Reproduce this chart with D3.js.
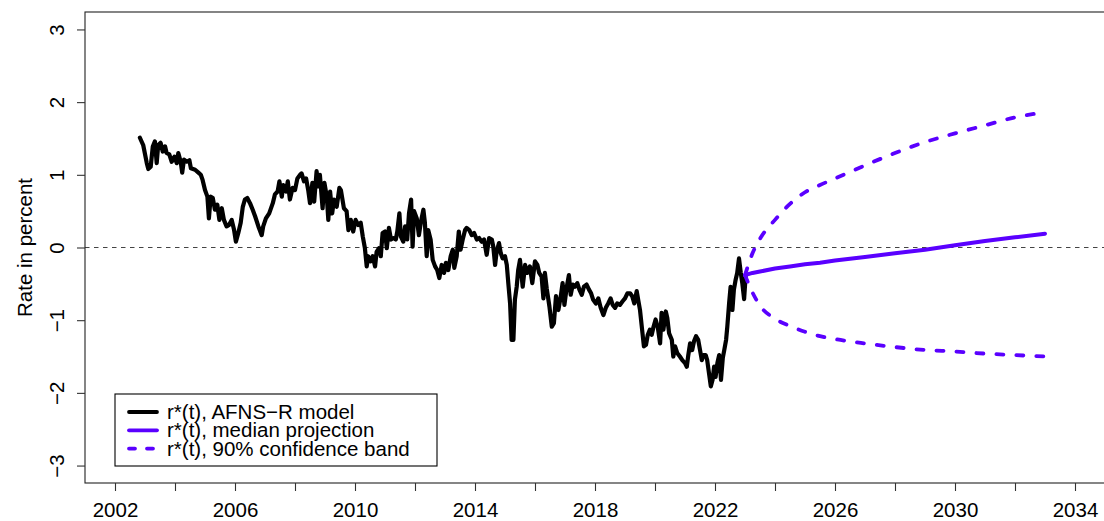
<!DOCTYPE html>
<html>
<head>
<meta charset="utf-8">
<script src="https://cdn.jsdelivr.net/npm/d3@7"></script>
<style>
  body { margin: 0; background: #fff; }
  svg text { font-family: "Liberation Sans", Arial, Helvetica, sans-serif; fill: #000; }
</style>
</head>
<body>
<div id="chart"></div>
<script>
// Chart size (matches the window)
var w = 1104;
var h = 521;

// r*(t) from the AFNS-R model (decimal years, percent)
var histYears = [
  2002.83, 2002.94, 2003.06, 2003.11, 2003.19, 2003.26, 2003.33, 2003.39, 2003.44, 2003.52,
  2003.59, 2003.67, 2003.72, 2003.81, 2003.89, 2003.98, 2004.06, 2004.11, 2004.19, 2004.24,
  2004.30, 2004.39, 2004.48, 2004.53, 2004.67, 2004.78, 2004.86, 2004.92, 2005.00, 2005.08,
  2005.13, 2005.19, 2005.26, 2005.33, 2005.41, 2005.48, 2005.56, 2005.63, 2005.72, 2005.80,
  2005.89, 2005.97, 2006.03, 2006.11, 2006.19, 2006.26, 2006.33, 2006.41, 2006.50, 2006.59,
  2006.67, 2006.78, 2006.89, 2006.94, 2007.03, 2007.14, 2007.26, 2007.33, 2007.42, 2007.48,
  2007.56, 2007.61, 2007.70, 2007.76, 2007.83, 2007.92, 2008.00, 2008.08, 2008.17, 2008.22,
  2008.30, 2008.37, 2008.44, 2008.50, 2008.58, 2008.64, 2008.72, 2008.78, 2008.83, 2008.92,
  2008.98, 2009.06, 2009.11, 2009.17, 2009.24, 2009.30, 2009.39, 2009.48, 2009.53, 2009.63,
  2009.72, 2009.78, 2009.86, 2009.94, 2010.02, 2010.11, 2010.19, 2010.26, 2010.33, 2010.39,
  2010.44, 2010.52, 2010.59, 2010.67, 2010.72, 2010.80, 2010.86, 2010.92, 2011.00, 2011.06,
  2011.13, 2011.20, 2011.28, 2011.36, 2011.41, 2011.48, 2011.53, 2011.61, 2011.67, 2011.74,
  2011.80, 2011.87, 2011.92, 2011.97, 2012.06, 2012.13, 2012.20, 2012.28, 2012.33, 2012.39,
  2012.44, 2012.52, 2012.59, 2012.67, 2012.74, 2012.81, 2012.89, 2012.97, 2013.03, 2013.11,
  2013.19, 2013.26, 2013.31, 2013.39, 2013.46, 2013.52, 2013.59, 2013.67, 2013.72, 2013.81,
  2013.89, 2013.97, 2014.06, 2014.14, 2014.22, 2014.30, 2014.39, 2014.47, 2014.56, 2014.61,
  2014.67, 2014.72, 2014.80, 2014.86, 2014.92, 2015.00, 2015.06, 2015.11, 2015.17, 2015.22,
  2015.28, 2015.33, 2015.39, 2015.44, 2015.50, 2015.59, 2015.67, 2015.74, 2015.83, 2015.91,
  2016.00, 2016.08, 2016.14, 2016.22, 2016.28, 2016.33, 2016.39, 2016.48, 2016.56, 2016.63,
  2016.70, 2016.78, 2016.86, 2016.92, 2016.98, 2017.06, 2017.13, 2017.19, 2017.26, 2017.33,
  2017.41, 2017.48, 2017.56, 2017.63, 2017.72, 2017.80, 2017.87, 2017.94, 2018.03, 2018.11,
  2018.19, 2018.28, 2018.36, 2018.44, 2018.52, 2018.59, 2018.67, 2018.74, 2018.83, 2018.92,
  2019.00, 2019.08, 2019.17, 2019.24, 2019.31, 2019.39, 2019.44, 2019.50, 2019.57, 2019.63,
  2019.70, 2019.76, 2019.83, 2019.89, 2019.94, 2020.02, 2020.09, 2020.17, 2020.22, 2020.28,
  2020.36, 2020.41, 2020.47, 2020.56, 2020.61, 2020.67, 2020.74, 2020.83, 2020.91, 2021.00,
  2021.06, 2021.11, 2021.17, 2021.24, 2021.30, 2021.37, 2021.44, 2021.50, 2021.56, 2021.61,
  2021.69, 2021.74, 2021.80, 2021.86, 2021.92, 2021.97, 2022.02, 2022.08, 2022.14, 2022.20,
  2022.26, 2022.31, 2022.37, 2022.41, 2022.47, 2022.52, 2022.58, 2022.63, 2022.69, 2022.74,
  2022.80, 2022.86, 2022.91, 2022.97, 2023.02
];
var histValues = [
  1.51, 1.41, 1.16, 1.08, 1.11, 1.39, 1.46, 1.16, 1.41, 1.44,
  1.32, 1.39, 1.30, 1.28, 1.18, 1.25, 1.16, 1.30, 1.18, 1.03,
  1.21, 1.18, 1.20, 1.09, 1.07, 1.03, 1.00, 0.93, 0.79, 0.70,
  0.40, 0.70, 0.68, 0.52, 0.59, 0.38, 0.54, 0.38, 0.29, 0.31,
  0.38, 0.24, 0.08, 0.20, 0.34, 0.56, 0.66, 0.68, 0.61, 0.52,
  0.43, 0.29, 0.17, 0.29, 0.40, 0.47, 0.61, 0.73, 0.77, 0.91,
  0.70, 0.86, 0.77, 0.91, 0.66, 0.82, 0.79, 0.95, 1.00, 1.02,
  0.91, 0.95, 0.79, 0.61, 0.89, 0.63, 1.05, 0.84, 1.00, 0.54,
  0.89, 0.70, 0.38, 0.77, 0.47, 0.66, 0.56, 0.82, 0.79, 0.54,
  0.50, 0.24, 0.38, 0.22, 0.38, 0.31, 0.34, 0.15, -0.01, -0.26,
  -0.12, -0.19, -0.12, -0.26, -0.06, -0.01, -0.12, 0.20, 0.22, -0.01,
  0.27, 0.11, 0.13, 0.11, 0.22, 0.47, 0.15, 0.08, 0.29, 0.11,
  0.47, 0.66, 0.01, 0.50, 0.40, 0.17, 0.36, 0.52, 0.34, -0.12,
  0.24, 0.11, -0.17, -0.26, -0.31, -0.42, -0.24, -0.35, -0.21, -0.31,
  -0.12, -0.03, -0.28, -0.12, 0.22, -0.03, 0.11, 0.24, 0.27, 0.24,
  0.17, 0.20, 0.11, 0.13, 0.08, 0.11, -0.10, 0.13, 0.11, 0.01,
  -0.24, -0.06, 0.06, -0.08, -0.15, -0.12, -0.24, -0.49, -0.77, -1.27,
  -1.27, -0.72, -0.54, -0.31, -0.17, -0.54, -0.24, -0.35, -0.26, -0.49,
  -0.19, -0.24, -0.35, -0.40, -0.70, -0.35, -0.56, -0.81, -1.09, -1.04,
  -0.67, -0.86, -0.67, -0.49, -0.79, -0.54, -0.38, -0.65, -0.51, -0.54,
  -0.49, -0.58, -0.65, -0.54, -0.51, -0.58, -0.63, -0.72, -0.77, -0.70,
  -0.83, -0.93, -0.83, -0.77, -0.70, -0.79, -0.83, -0.77, -0.79, -0.74,
  -0.70, -0.63, -0.63, -0.67, -0.77, -0.60, -0.72, -0.86, -1.13, -1.36,
  -1.34, -1.20, -1.13, -1.20, -1.11, -0.99, -1.09, -1.32, -0.90, -1.13,
  -0.88, -0.97, -1.18, -1.27, -1.50, -1.36, -1.45, -1.50, -1.55, -1.59,
  -1.64, -1.48, -1.32, -1.41, -1.29, -1.22, -1.27, -1.41, -1.55, -1.48,
  -1.48, -1.55, -1.73, -1.91, -1.82, -1.64, -1.78, -1.59, -1.48, -1.82,
  -1.52, -1.41, -1.27, -1.09, -0.77, -0.54, -0.86, -0.58, -0.44, -0.35,
  -0.15, -0.35, -0.49, -0.71, -0.40
];

// Projection horizon and results
var projYears    = [2023.0, 2023.25, 2023.5, 2024.0, 2024.5, 2025.0, 2025.5, 2026.0, 2027.0, 2028.0, 2029.0, 2030.0, 2031.0, 2032.0, 2033.0];
var medianValues = [-0.38, -0.35, -0.33, -0.29, -0.26, -0.23, -0.21, -0.18, -0.13, -0.08, -0.03, 0.03, 0.09, 0.14, 0.19];
var upperValues  = [-0.38, -0.08, 0.12, 0.38, 0.60, 0.76, 0.86, 0.95, 1.13, 1.30, 1.45, 1.57, 1.68, 1.79, 1.86];
var lowerValues  = [-0.38, -0.62, -0.80, -0.98, -1.08, -1.16, -1.22, -1.26, -1.32, -1.37, -1.41, -1.43, -1.46, -1.48, -1.50];

// Axis ticks and legend entries
var xTicks = d3.range(2002, 2035, 2);
var yTicks = [-3, -2, -1, 0, 1, 2, 3];
var legendLabels = ["r*(t), AFNS\u2212R model", "r*(t), median projection", "r*(t), 90% confidence band"];

var purple = "#5a00ff";
var fontSize = '20.5px';

var svg = d3.select('#chart').append('svg')
      .attr('width', w)
      .attr('height', h);

// plot region: left edge at 85px, the right edge falls outside the picture
var x = d3.scaleLinear().domain([2001, 2036]).range([85, 1135]);
var y = d3.scaleLinear().domain([-3.24, 3.24]).range([483, 12]);

var line = d3.line()
      .x(function(d) { return x(d[0]); })
      .y(function(d) { return y(d[1]); });

// zero reference line
svg.append('line')
    .attr('x1', x(2001)).attr('x2', w)
    .attr('y1', y(0)).attr('y2', y(0))
    .attr('stroke', '#444')
    .attr('stroke-width', 1)
    .attr('stroke-dasharray', '4.5,4.5');

var hist = d3.zip(histYears, histValues);
svg.append('path')
    .datum(hist)
    .attr('d', line)
    .attr('fill', 'none')
    .attr('stroke', '#000')
    .attr('stroke-width', 4.2)
    .attr('stroke-linejoin', 'round')
    .attr('stroke-linecap', 'round');

svg.append('path')
    .datum(d3.zip(projYears, medianValues))
    .attr('d', line)
    .attr('fill', 'none')
    .attr('stroke', purple)
    .attr('stroke-width', 4)
    .attr('stroke-linejoin', 'round')
    .attr('stroke-linecap', 'round');

[upperValues, lowerValues].forEach(function(vals) {
  svg.append('path')
      .datum(d3.zip(projYears, vals))
      .attr('d', d3.line().curve(d3.curveMonotoneX)
                .x(function(d) { return x(d[0]); })
                .y(function(d) { return y(d[1]); }))
      .attr('fill', 'none')
      .attr('stroke', purple)
      .attr('stroke-width', 3.8)
      .attr('stroke-linecap', 'round')
      .attr('stroke-dasharray', '7,13');
});

// box around the plot
svg.append('rect')
    .attr('x', x(2001)).attr('y', y(3.24))
    .attr('width', x(2036) - x(2001))
    .attr('height', y(-3.24) - y(3.24))
    .attr('fill', 'none')
    .attr('stroke', '#222')
    .attr('stroke-width', 1.1);

// x axis
var xAxis = svg.append('g')
    .attr('transform', 'translate(0,' + y(-3.24) + ')')
    .call(d3.axisBottom(x)
        .tickValues(xTicks)
        .tickSize(8)
        .tickFormat(function(d) { return (d - 2002) % 4 === 0 ? d : ''; }));
xAxis.select('.domain').remove();
xAxis.selectAll('line').attr('stroke', '#333').attr('stroke-width', 1.1);
xAxis.selectAll('text')
    .attr('y', 34).attr('dy', 0)
    .style('font-size', fontSize)
    .style('font-family', '"Liberation Sans", Arial, sans-serif')
    .attr('fill', '#000');

// y axis, labels parallel to the axis
var yAxis = svg.append('g')
    .attr('transform', 'translate(' + x(2001) + ',0)')
    .call(d3.axisLeft(y)
        .tickValues(yTicks)
        .tickSize(8)
        .tickFormat(function(d) { return d < 0 ? '\u2212' + Math.abs(d) : d; }));
yAxis.select('.domain').remove();
yAxis.selectAll('line').attr('stroke', '#333').attr('stroke-width', 1.1);
yAxis.selectAll('text')
    .attr('x', 0).attr('dy', 0)
    .attr('text-anchor', 'middle')
    .attr('transform', 'translate(-21,0) rotate(-90)')
    .style('font-size', fontSize)
    .style('font-family', '"Liberation Sans", Arial, sans-serif')
    .attr('fill', '#000');

svg.append('text')
    .attr('transform', 'translate(32,' + y(0) + ') rotate(-90)')
    .attr('text-anchor', 'middle')
    .style('font-size', fontSize)
    .text('Rate in percent');

// legend
var legend = svg.append('g').attr('transform', 'translate(115,394)');
legend.append('rect')
    .attr('width', 322).attr('height', 72)
    .attr('fill', '#fff')
    .attr('stroke', '#000')
    .attr('stroke-width', 1.1);

var legendStyles = [
  { color: '#000', dash: null },
  { color: purple, dash: null },
  { color: purple, dash: '6,12' }
];
legendLabels.forEach(function(label, i) {
  var ly = 18 + i * 18.3;
  legend.append('line')
      .attr('x1', 14).attr('x2', 42)
      .attr('y1', ly).attr('y2', ly)
      .attr('stroke', legendStyles[i].color)
      .attr('stroke-width', 3.8)
      .attr('stroke-linecap', 'round')
      .attr('stroke-dasharray', legendStyles[i].dash);
  legend.append('text')
      .attr('x', 52).attr('y', ly + 7)
      .style('font-size', fontSize)
      .text(label);
});
</script>
</body>
</html>
